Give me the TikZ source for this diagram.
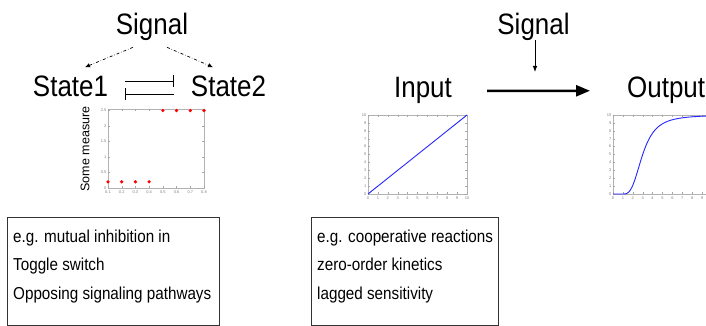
\documentclass[tikz,border=0pt]{standalone}
\usepackage{fontspec}
\setmainfont{Liberation Sans}[FakeStretch=0.88]
\newfontfamily\plainsans{Liberation Sans}
\usetikzlibrary{arrows.meta,calc}
\begin{document}
\begin{tikzpicture}[x=1pt,y=-1pt,
  big/.style={font=\fontsize{29.5}{32}\selectfont, inner sep=0pt},
  txt/.style={font=\fontsize{17.3}{20}\selectfont, inner sep=0pt, anchor=base west},
  tickmark/.style={gray!70, line width=0.4pt},
  ticklbl/.style={font=\plainsans\fontsize{4}{4}\selectfont, text=gray, inner sep=0.4pt},
  frame/.style={draw=gray!60, line width=0.6pt},
  dd/.style={dash dot, line width=0.7pt, -{Latex[length=5pt,width=4.5pt]}},
  inhib/.style={line width=0.9pt, -{Bar[width=12pt]}},
  thin arrow/.style={line width=0.8pt, -{Latex[length=6pt,width=4.5pt]}},
  thick arrow/.style={line width=2.5pt, -{Triangle[length=14pt 0 0,width=11pt 0 0]}},
  curve/.style={blue!85!white, line width=0.9pt},
  box/.style={draw=black!80, line width=0.8pt, anchor=north west, inner sep=0pt}
]
\clip (0,0) rectangle (706,326);
\fill[white] (0,0) rectangle (706,326);

% ---------- left part ----------
\node[big, anchor=base] (sigL) at (152,35) {Signal};
\node[big, anchor=base] (st1) at (70.5,97) {State1};
\node[big, anchor=base] (st2) at (228.5,97) {State2};

\draw[dd] ($(sigL.south)+(-19,6)$) -- ($(st1.north)+(14.5,-9)$);
\draw[dd] ($(sigL.south)+(15,6)$) -- ($(st2.north)+(-15.5,-9)$);

\draw[inhib] ($(st1.east)+(17,-5.5)$) -- ($(st2.west)+(-17,-5.5)$);
\draw[inhib] ($(st2.west)+(-17,7.5)$) -- ($(st1.east)+(17,7.5)$);

% left plot
\draw[frame] (108,109) rectangle (204,188);
\foreach \yv in {0,0.5,1,1.5,2,2.5} {
  \pgfmathsetmacro\yy{188-\yv*79/2.55}
  \draw[tickmark] (108,\yy) -- ++(2,0);
  \draw[tickmark] (204,\yy) -- ++(-2,0);
  \node[ticklbl, anchor=east] at (107,\yy) {\yv};
}
\foreach \xv in {0.1,0.2,0.3,0.4,0.5,0.6,0.7,0.8} {
  \pgfmathsetmacro\xx{108+(\xv-0.1)*96/0.7}
  \draw[tickmark] (\xx,188) -- ++(0,-2);
  \draw[tickmark] (\xx,109) -- ++(0,2);
  \node[ticklbl, anchor=north] at (\xx,190) {\xv};
}
\foreach \xv/\yv in {0.1/0.2,0.2/0.2,0.3/0.2,0.4/0.2,0.5/2.5,0.6/2.5,0.7/2.5,0.8/2.5} {
  \pgfmathsetmacro\xx{108+(\xv-0.1)*96/0.7}
  \pgfmathsetmacro\yy{188-\yv*79/2.55}
  \fill[red] (\xx,\yy) circle (1.8);
}
\node[font=\plainsans\fontsize{12.5}{13}\selectfont, rotate=90, inner sep=0pt] (meas) at (85,149) {Some measure};

\node[box, minimum width=212pt, minimum height=108pt] (boxL) at (7,217) {};
\node[txt] (l1) at (13,242) {e.g. mutual inhibition in};
\node[txt] (l2) at (13,270) {Toggle switch};
\node[txt] (l3) at (13,299) {Opposing signaling pathways};

% ---------- right part ----------
\node[big, anchor=base] (sigR) at (533.5,35) {Signal};
\node[big, anchor=base] (inp) at (423,98) {Input};
\node[big, anchor=base west] (outp) at (627,98) {Output};

\coordinate (hit) at (535,72);
\draw[thin arrow] (sigR.south -| hit) ++(0,-1) -- (hit);
\draw[thick arrow] ($(inp.east)+(35,0)$) -- ($(outp.west)+(-37,0)$);

% middle plot
\draw[frame] (368,115) rectangle (467,194);
\foreach \i in {0,...,10} {
  \pgfmathsetmacro\xx{368+9.9*\i}
  \pgfmathsetmacro\yy{194-7.9*\i}
  \draw[tickmark] (\xx,194) -- ++(0,-2);
  \draw[tickmark] (\xx,115) -- ++(0,2);
  \draw[tickmark] (368,\yy) -- ++(2,0);
  \draw[tickmark] (467,\yy) -- ++(-2,0);
  \node[ticklbl, anchor=north] at (\xx,196) {\i};
  \node[ticklbl, anchor=east] at (367,\yy) {\i};
}
\draw[curve] (368,194) -- (467,115);

% right plot
\draw[frame] (613,115) rectangle (712,194);
\foreach \i in {0,...,10} {
  \pgfmathsetmacro\yy{194-7.9*\i}
  \draw[tickmark] (613,\yy) -- ++(2,0);
  \node[ticklbl, anchor=east] at (612,\yy) {\i};
}
\foreach \i in {0,...,9} {
  \pgfmathsetmacro\xx{613+9.9*\i}
  \draw[tickmark] (\xx,194) -- ++(0,-2);
  \draw[tickmark] (\xx,115) -- ++(0,2);
  \node[ticklbl, anchor=north] at (\xx,196) {\i};
}
\draw[curve] (613,194) -- (622.9,194) -- plot[domain=1:10, samples=90]
  ({613+9.9*\x},{194-79*(((\x-1)*(\x-1)*(\x-1))/(8+(\x-1)*(\x-1)*(\x-1)))});

\node[box, minimum width=187pt, minimum height=108pt] (boxR) at (311,217) {};
\node[txt] (r1) at (317,242) {e.g. cooperative reactions};
\node[txt] (r2) at (317,270) {zero-order kinetics};
\node[txt] (r3) at (317,299) {lagged sensitivity};
\end{tikzpicture}
\end{document}
